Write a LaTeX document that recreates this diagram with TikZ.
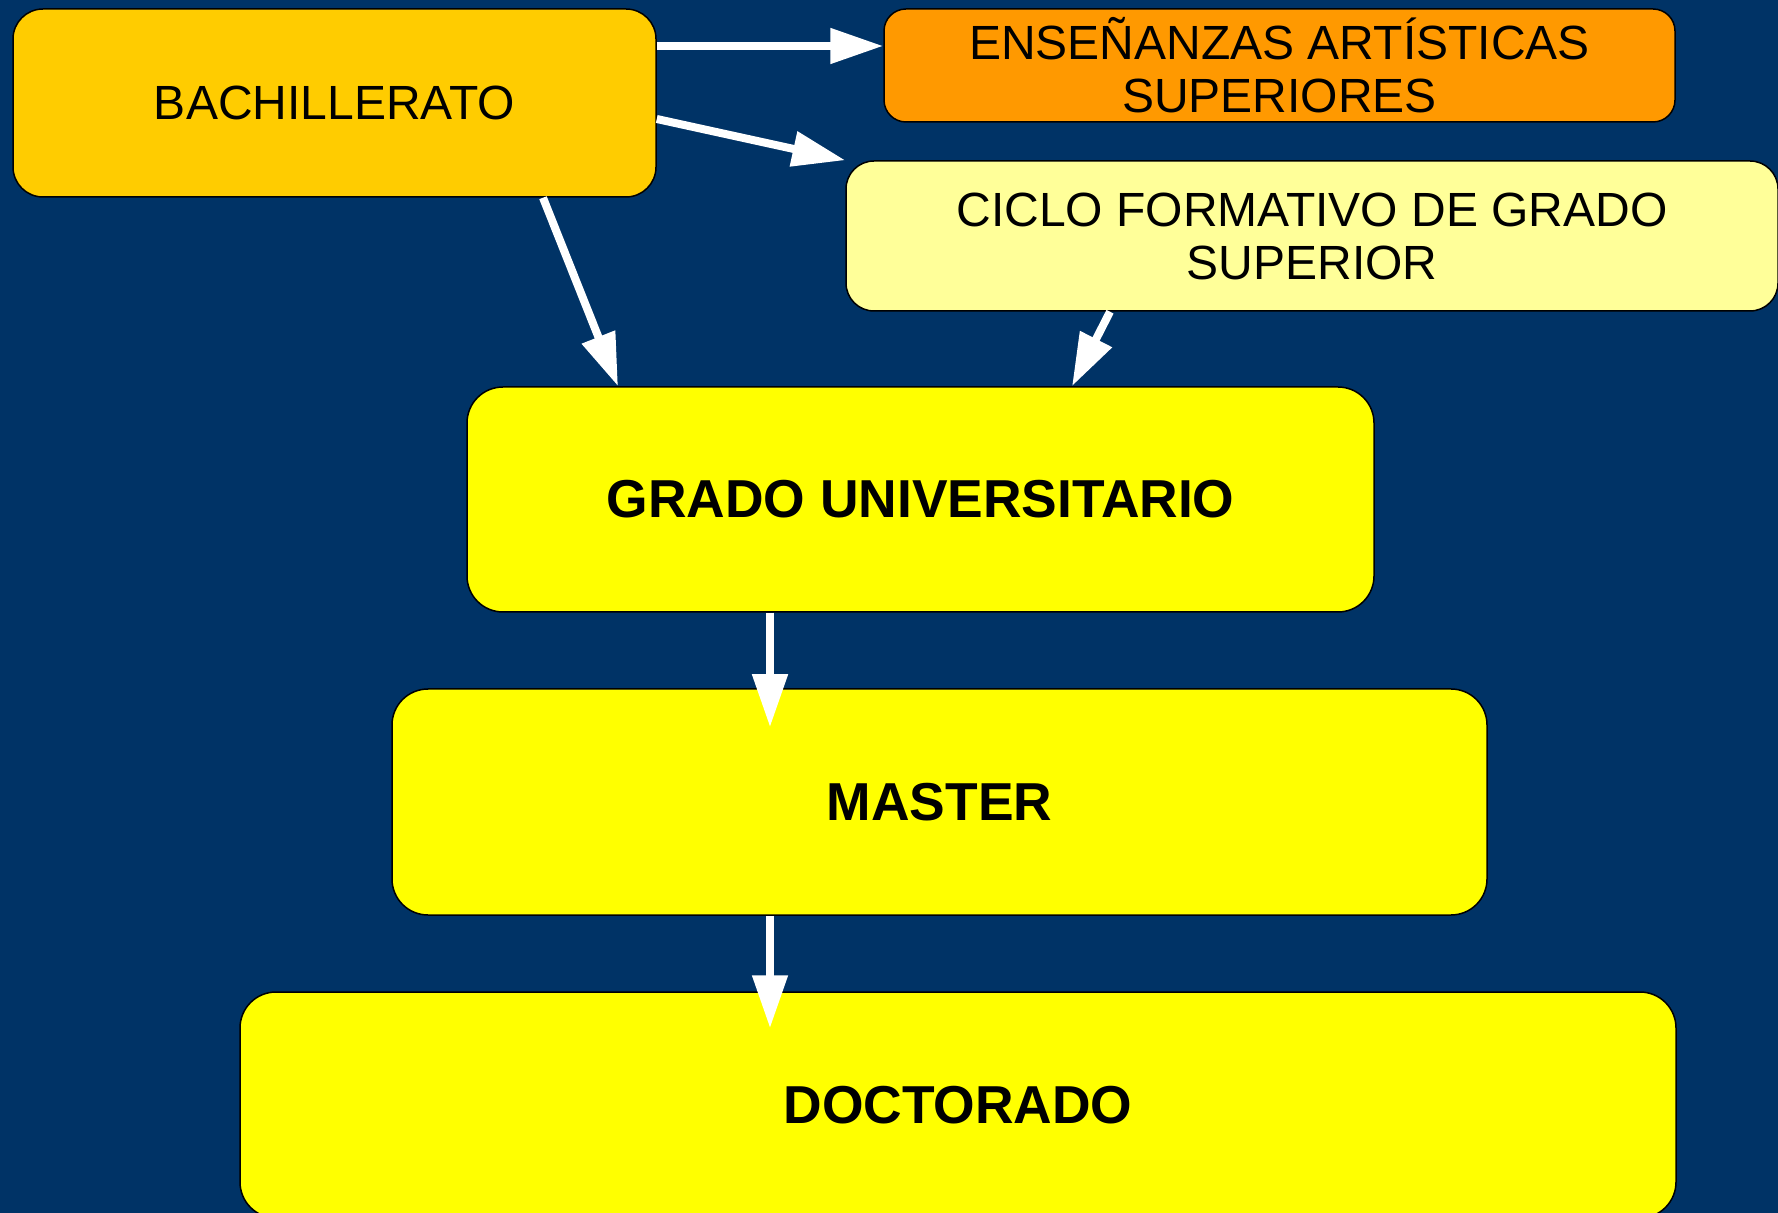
\documentclass[tikz,border=0pt]{standalone}
\usepackage{fontspec}
\setmainfont{Liberation Sans}
\usetikzlibrary{arrows.meta}

\definecolor{fondo}{RGB}{0,51,102}
\definecolor{naranjaclaro}{RGB}{255,204,0}
\definecolor{naranja}{RGB}{255,153,0}
\definecolor{amarillopalido}{RGB}{255,255,153}
\definecolor{amarillo}{RGB}{255,255,0}

\tikzset{
  caja/.style={draw=black, line width=0.75pt, rectangle, inner sep=0pt, align=center,
    font=\fontsize{24pt}{26.5pt}\selectfont},
  cajagrande/.style={caja, fill=amarillo, rounded corners=18pt,
    font=\fontsize{26.7pt}{30pt}\selectfont\bfseries},
  flecha/.style={draw=white, line width=4pt, -{Triangle[length=26.5pt,width=17pt]}}
}

\begin{document}
\begin{tikzpicture}[x=0.5pt,y=0.5pt,yscale=-1,xscale=1]

%Background
\useasboundingbox (0,0) rectangle (1778,1213);
\fill [fondo] (0,0) rectangle (1778,1213);

%Shape: Rounded Rectangles
\draw (334.5,103) node [caja, fill=naranjaclaro, rounded corners=15pt, minimum width=321.5pt, minimum height=94pt] (bach) {BACHILLERATO};
\draw (1279.5,65.5) node [caja, fill=naranja, rounded corners=11pt, minimum width=395.5pt, minimum height=56.5pt] (artes) {ENSEÑANZAS ARTÍSTICAS\\SUPERIORES};
\draw (1312,236) node [caja, fill=amarillopalido, rounded corners=14pt, minimum width=466pt, minimum height=75pt] (ciclo) {CICLO FORMATIVO DE GRADO\\SUPERIOR};
\draw (920.5,499.5) node [cajagrande, minimum width=453.5pt, minimum height=112.5pt] (grado) {GRADO UNIVERSITARIO};
\draw (939.5,802) node [cajagrande, minimum width=547.5pt, minimum height=113pt] (master) {MASTER};
\draw (958,1105) node [cajagrande, minimum width=718pt, minimum height=113pt] (doct) {DOCTORADO};

%Arrows
\draw [flecha] ([yshift=-28.5pt]bach.east) -- ([yshift=-28.5pt]bach.east -| artes.west);
\draw [flecha] ([yshift=8pt]bach.east) -- (ciclo.north west);
\draw [flecha] ([xshift=104.25pt]bach.south) -- ([xshift=-151.25pt]grado.north);
\draw [flecha] ([xshift=-101pt]ciclo.south) -- ([xshift=75.75pt]grado.north);
\draw [flecha] ([xshift=-75.25pt]grado.south) -- ([xshift=-84.75pt,yshift=19.5pt]master.north);
\draw [flecha] ([xshift=-84.75pt]master.south) -- ([xshift=-94pt,yshift=18.5pt]doct.north);

\end{tikzpicture}
\end{document}
